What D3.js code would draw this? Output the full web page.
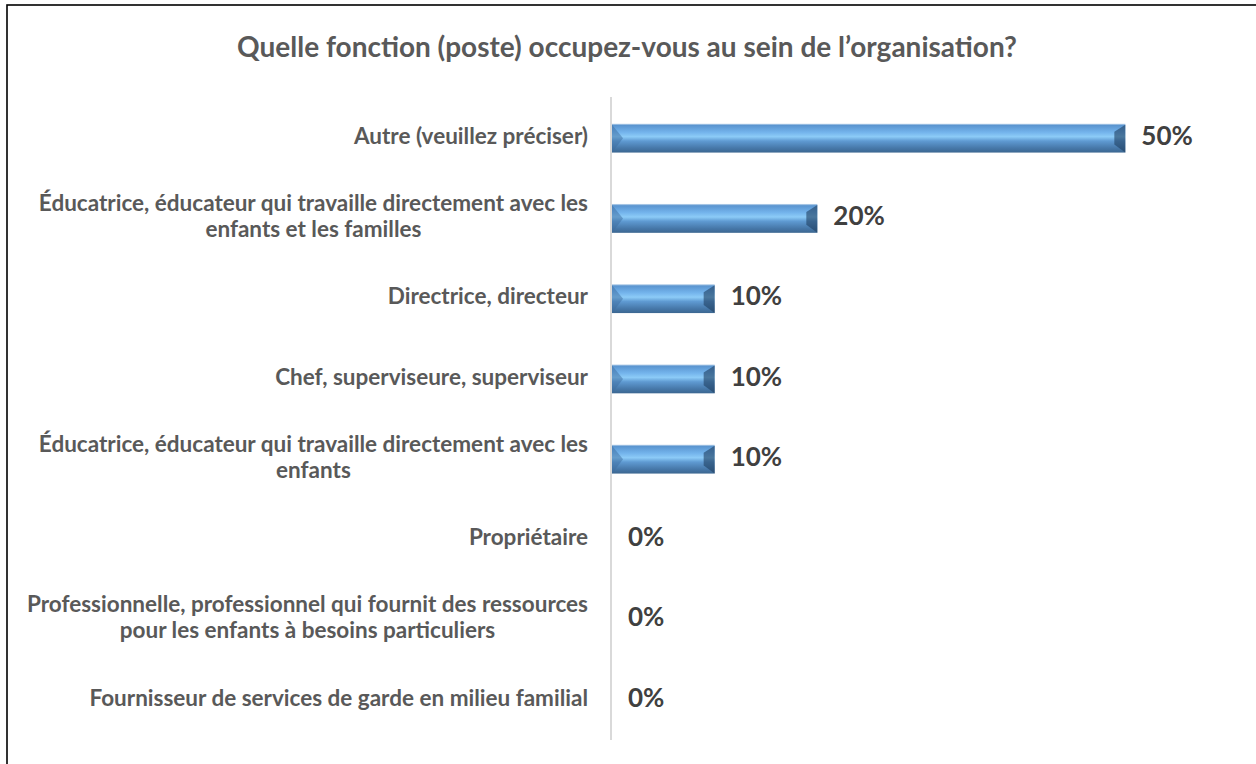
<!DOCTYPE html>
<html>
<head>
<meta charset="utf-8">
<script src="https://cdn.jsdelivr.net/npm/d3@7"></script>
<style>
  body { margin: 0; background: #fff; }
</style>
</head>
<body>
<div id="chart"></div>
<script>
const title = "Quelle fonction (poste) occupez-vous au sein de l\u2019organisation?";
const categories = [
  ["Autre (veuillez préciser)"],
  ["Éducatrice, éducateur qui travaille directement avec les", "enfants et les familles"],
  ["Directrice, directeur"],
  ["Chef, superviseure, superviseur"],
  ["Éducatrice, éducateur qui travaille directement avec les", "enfants"],
  ["Propriétaire"],
  ["Professionnelle, professionnel qui fournit des ressources", "pour les enfants à besoins particuliers"],
  ["Fournisseur de services de garde en milieu familial"]
];
const values = [0.5, 0.2, 0.1, 0.1, 0.1, 0, 0, 0];

const width = 1256, height = 764;
const margin = {top: 98, right: 28, bottom: 24, left: 612};
const font = "Lato, 'Open Sans', sans-serif";

const svg = d3.select("#chart").append("svg")
    .attr("width", width)
    .attr("height", height);

// outer frame
svg.append("rect")
  .attr("x", 7).attr("y", 5)
  .attr("width", width + 10).attr("height", height + 10)
  .attr("fill", "none")
  .attr("stroke", "#000")
  .attr("stroke-width", 1.6);

const defs = svg.append("defs");
const grad = defs.append("linearGradient")
  .attr("id", "barGrad")
  .attr("x1", 0).attr("y1", 0).attr("x2", 0).attr("y2", 1);
[[0, "#c9dcef"], [0.06, "#5a95d0"], [0.3, "#74b4ec"], [0.45, "#8ccbf7"], [0.6, "#5f9ad2"], [0.85, "#4677a8"], [1, "#3c6791"]]
  .forEach(([o, c]) => grad.append("stop").attr("offset", o).attr("stop-color", c));

const x = d3.scaleLinear()
  .domain([0, 0.6])
  .range([margin.left, 1228]);

const y = d3.scaleBand()
  .domain(d3.range(categories.length))
  .range([margin.top, height - margin.bottom])
  .paddingInner(0.64)
  .paddingOuter(0.32);

// title
svg.append("text")
  .attr("x", 627)
  .attr("y", 50)
  .attr("text-anchor", "middle")
  .attr("dominant-baseline", "middle")
  .attr("font-family", font)
  .attr("font-weight", "bold")
  .attr("font-size", "28px")
  .attr("fill", "#595959")
  .text(title);

// bars
const bh = y.bandwidth();
const bev = 11;
const bars = svg.append("g")
  .selectAll("g")
  .data(values.map((v, i) => ({v, i})).filter(d => d.v > 0))
  .join("g");

bars.append("rect")
  .attr("x", d => x(0))
  .attr("y", d => y(d.i))
  .attr("width", d => x(d.v) - x(0))
  .attr("height", bh)
  .attr("fill", "url(#barGrad)");

// left bevel
bars.append("polygon")
  .attr("points", d => {
    const x0 = x(0), y0 = y(d.i), y1 = y0 + bh;
    return [[x0, y0 + 1], [x0 + bev, y0 + bh / 2], [x0, y1]].map(p => p.join(",")).join(" ");
  })
  .attr("fill", "#3d6e9f")
  .attr("opacity", 0.5);

// right bevel
bars.append("polygon")
  .attr("points", d => {
    const x1 = x(d.v), y0 = y(d.i), y1 = y0 + bh;
    return [[x1, y0 + 1], [x1 - bev, y0 + 8], [x1 - bev, y1 - 8], [x1, y1]].map(p => p.join(",")).join(" ");
  })
  .attr("fill", "#1f3f60")
  .attr("opacity", 0.6);

// value labels
svg.append("g")
  .selectAll("text")
  .data(values)
  .join("text")
    .attr("x", d => x(d) + 16)
    .attr("y", (d, i) => y(i) + bh / 2)
    .attr("dominant-baseline", "middle")
    .attr("font-family", font)
    .attr("font-weight", "bold")
    .attr("font-size", "26px")
    .attr("fill", "#404040")
    .text(d => d3.format(".0%")(d));

// category labels (lines centred inside a right-aligned block)
const labelRight = 588;
const lineH = 26;
const labels = svg.append("g")
  .attr("font-family", font)
  .attr("font-weight", "bold")
  .attr("font-size", "22.5px")
  .attr("fill", "#595959");

categories.forEach((lines, i) => {
  const g = labels.append("g");
  const cy = y(i) + bh / 2;
  const t = g.selectAll("text")
    .data(lines)
    .join("text")
      .attr("y", (d, k) => cy + (k - (lines.length - 1) / 2) * lineH)
      .attr("dominant-baseline", "middle")
      .attr("text-anchor", "middle")
      .text(d => d);
  const w = d3.max(t.nodes(), n => n.getComputedTextLength());
  t.attr("x", labelRight - w / 2);
});

// axis line
svg.append("line")
  .attr("x1", margin.left - 1).attr("x2", margin.left - 1)
  .attr("y1", margin.top - 1).attr("y2", height - margin.bottom)
  .attr("stroke", "#d9d9d9")
  .attr("stroke-width", 2);
</script>
</body>
</html>
